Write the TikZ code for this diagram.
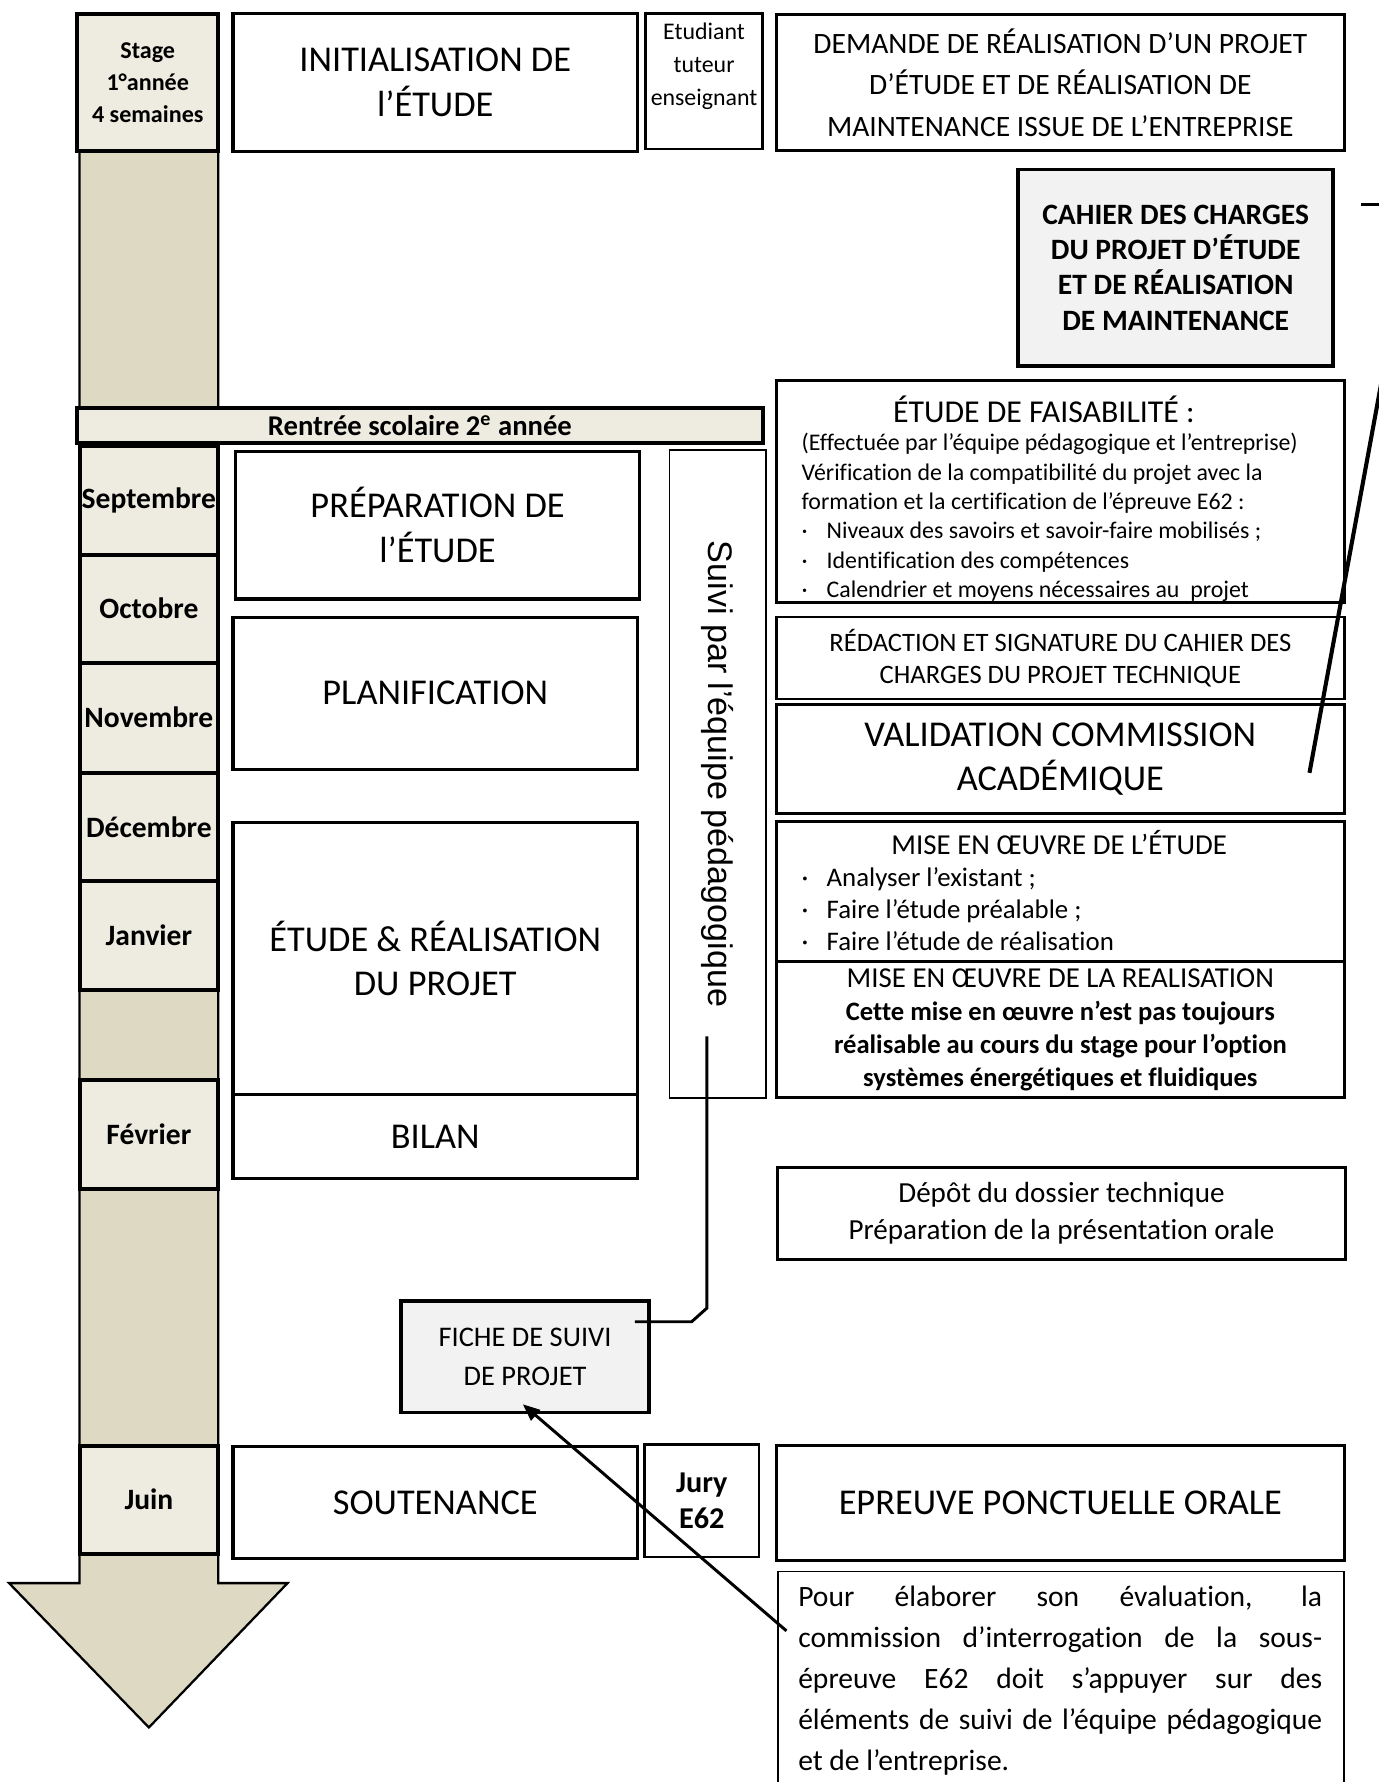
\documentclass[tikz,border=0pt]{standalone}
\usepackage{fontspec}
\setmainfont[Ligatures={NoCommon,NoRare}]{Carlito}
\newfontfamily\arialfont{Liberation Sans}
\usetikzlibrary{arrows.meta,calc}
\definecolor{cpale}{HTML}{EEECE1}
\definecolor{ctan}{HTML}{DDD9C3}
\definecolor{cgrey}{HTML}{F2F2F2}
\newcommand\fsz[2]{\fontsize{#1}{#2}\selectfont}
\newcommand\bulpt{\makebox[11pt][l]{·}}
\begin{document}
\begin{tikzpicture}[x=0.5pt,y=-0.5pt,
  every node/.style={inner sep=0pt, align=center},
  mon/.style={draw, fill=cpale, line width=1.8pt, minimum width=61pt, font=\bfseries\fsz{13}{15}},
  bigbox/.style={draw, line width=1.4pt, minimum width=178pt, font=\fsz{16}{19.5}},
  rbox/.style={draw, line width=1.2pt, minimum width=250pt},
  greybox/.style={draw, fill=cgrey, line width=1.6pt},
  conn/.style={line width=1.3pt}]
\useasboundingbox (0,0) rectangle (1213,1568);

% time arrow
\draw[fill=ctan, line width=1pt] (70,133) -- (192,133) -- (192,1393) -- (253,1393) -- (131,1520) -- (8,1393) -- (70,1393) -- cycle;

\node[draw, fill=cpale, line width=1.8pt, minimum width=62pt, minimum height=60.5pt, font=\bfseries\fsz{10.6}{14}] (stage) at (130,72.5) {Stage\\1°année\\4 semaines};
\node[draw, fill=cpale, line width=1.8pt, minimum width=301.5pt, minimum height=15.5pt, font=\bfseries\fsz{12.6}{14}] (rentree) at (369.5,374.5) {Rentrée scolaire 2\textsuperscript{e} année};

\node[mon, minimum height=48pt] (sep) at (131,440) {Septembre};
\node[mon, minimum height=47.5pt] (oct) at (131,535.5) {Octobre};
\node[mon, minimum height=48.5pt] (nov) at (131,631.5) {Novembre};
\node[mon, minimum height=47.5pt] (dec) at (131,727.5) {Décembre};
\node[mon, minimum height=48pt] (jan) at (131,823) {Janvier};
\node[mon, minimum height=48pt] (fev) at (131,998) {Février};
\node[mon, minimum height=47.5pt] (juin) at (131,1319.5) {Juin};

% phases
\node[bigbox, minimum height=60.5pt] (init) at (383,72.5) {INITIALISATION DE\\l’ÉTUDE};
\node[bigbox, minimum height=65pt] (prep) at (385,462) {PRÉPARATION DE\\l’ÉTUDE};
\node[bigbox, minimum height=67pt] (plan) at (383,610) {PLANIFICATION};
\node[bigbox, minimum height=119.5pt] (etre) at (383,843.5) {ÉTUDE \& RÉALISATION\\DU PROJET};
\node[bigbox, minimum height=37pt] (bilan) at (383,1000) {BILAN};
\node[bigbox, minimum height=49pt] (sout) at (383,1322) {SOUTENANCE};

% actors
\node[draw, line width=1pt, minimum width=51.5pt, minimum height=59.5pt] (etu) at (619.5,71.5) {};
\node[anchor=north, font=\fsz{10.5}{14.5}] (etutxt) at ($(etu.north)+(0,9)$) {Etudiant\\tuteur\\enseignant};
\node[draw, line width=1pt, minimum width=50.5pt, minimum height=49.5pt, font=\bfseries\fsz{13.3}{15.5}] (jury) at (617.5,1320.5) {Jury\\E62};
\node[draw, line width=0.6pt, rotate=-90, minimum width=285pt, minimum height=42.5pt, font=\arialfont\fsz{15}{18}] (suivi) at (631.5,681) {Suivi par l’équipe pédagogique};

% right column
\node[rbox, minimum height=60pt, font=\fsz{13}{18.25}] (dem) at (933,72.5) {DEMANDE DE RÉALISATION D’UN PROJET\\D’ÉTUDE ET DE RÉALISATION DE\\MAINTENANCE ISSUE DE L’ENTREPRISE};
\node[greybox, minimum width=138.5pt, minimum height=86.5pt, font=\bfseries\fsz{13}{15.5}] (cahier) at (1034.5,235.5) {CAHIER DES CHARGES\\DU PROJET D’ÉTUDE\\ET DE RÉALISATION\\DE MAINTENANCE};

\node[rbox, minimum height=97.5pt] (fais) at (933,432.5) {};
\node[font=\fsz{14}{16}] (faistitle) at (918.5,360) {ÉTUDE DE FAISABILITÉ :};
\node[anchor=north west, align=left, font=\fsz{10.5}{12.9}] (faisbody) at (705,381) {(Effectuée par l’équipe pédagogique et l’entreprise)\\Vérification de la compatibilité du projet avec la\\formation et la certification de l’épreuve E62 :\\\bulpt Niveaux des savoirs et savoir-faire mobilisés ;\\\bulpt Identification des compétences\\\bulpt Calendrier et moyens nécessaires au\ \ projet};

\node[rbox, minimum height=36pt, font=\fsz{11.7}{14}] (redac) at (933,579) {RÉDACTION ET SIGNATURE DU CAHIER DES\\CHARGES DU PROJET TECHNIQUE};
\node[rbox, minimum height=48pt, font=\fsz{16}{19.5}] (valid) at (933,668) {VALIDATION COMMISSION\\ACADÉMIQUE};

\node[rbox, minimum height=61.5pt] (miseetu) at (933,784.5) {};
\node[font=\fsz{12.7}{14}] (miseetutitle) at (932,741) {MISE EN ŒUVRE DE L’ÉTUDE};
\node[anchor=north west, align=left, font=\fsz{11.8}{14}] (miseetubody) at (705,763) {\bulpt Analyser l’existant ;\\\bulpt Faire l’étude préalable ;\\\bulpt Faire l’étude de réalisation};

\node[rbox, minimum height=60pt, font=\fsz{11.7}{14.5}] (misereal) at (933,906) {{\fsz{12.7}{14.5}MISE EN ŒUVRE DE LA REALISATION}\\\textbf{Cette mise en œuvre n’est pas toujours}\\\textbf{réalisable au cours du stage pour l’option}\\\textbf{systèmes énergétiques et fluidiques}};

\node[rbox, minimum height=40.5pt, font=\fsz{12.8}{16}] (depot) at (934,1067.5) {Dépôt du dossier technique\\Préparation de la présentation orale};

\node[greybox, minimum width=109pt, minimum height=49pt, font=\fsz{12.5}{17.5}] (fiche) at (462,1194) {FICHE DE SUIVI\\DE PROJET};

\node[rbox, minimum height=50.5pt, font=\fsz{16}{19.5}] (epreuve) at (933,1322.5) {EPREUVE PONCTUELLE ORALE};

\node[draw, line width=0.7pt, minimum width=249pt, minimum height=115pt, anchor=north west] (para) at (684,1382) {};
\node[anchor=north west, text width=230.5pt, align=justify, font=\fsz{13}{18}] (paratxt) at (702,1395) {Pour élaborer son évaluation, la\linebreak commission d’interrogation de la sous-\linebreak épreuve E62 doit s’appuyer sur des\linebreak éléments de suivi de l’équipe pédagogique\linebreak et de l’entreprise.};

% connectors
\draw[conn] ($(suivi.center)+(-9.5,231)$) -- ($(suivi.center)+(-9.5,470)$) -- ($(fiche.east)+(36,-31)$) -- ($(fiche.east)+(-14,-31)$);
\draw[conn, -{Triangle[length=7.5pt,width=6pt]}] ($(para.north west)+(8,53)$) -- ($(fiche.south)+(-2,-9)$);
\coordinate (cstub) at ($(cahier.east)+(23,-55.5)$);
\draw[line width=1.5pt] (cstub) -- ++(40,0);
\coordinate (vend) at ($(valid.east)+(-32,12)$);
\draw[line width=1.8pt] (vend) -- ++(70,-380);
\end{tikzpicture}
\end{document}
